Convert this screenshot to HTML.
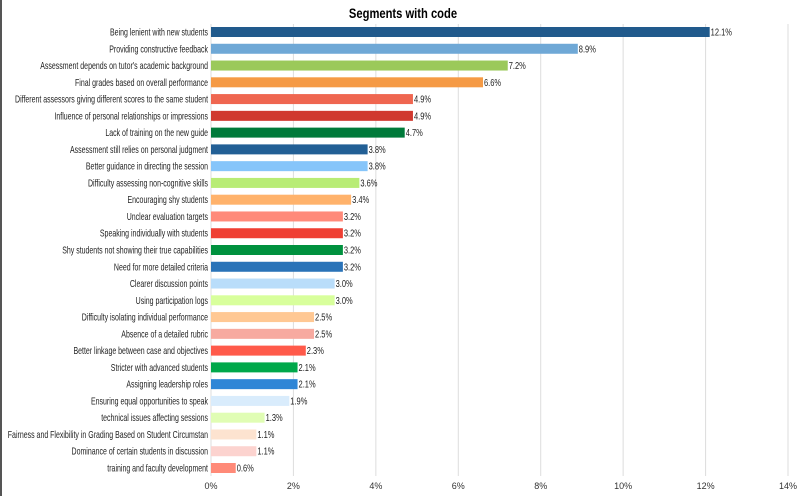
<!DOCTYPE html>
<html><head><meta charset="utf-8"><style>
body{margin:0;background:#fff;}
svg{display:block;font-family:"Liberation Sans",sans-serif;}
</style></head><body>
<svg id="chart" width="807" height="496">
<rect x="0" y="0" width="2" height="496" fill="#555"/>
<text x="403" y="18" text-anchor="middle" font-size="14" font-weight="bold" transform="translate(403,0) scale(0.8,1) translate(-403,0)">Segments with code</text>
<g id="grid"></g><g id="bars"></g>
</svg>
<script>
const categories=["Being lenient with new students","Providing constructive feedback","Assessment depends on tutor's academic background","Final grades based on overall performance","Different assessors giving different scores to the same student","Influence of personal relationships or impressions","Lack of training on the new guide","Assessment still relies on personal judgment","Better guidance in directing the session","Difficulty assessing non-cognitive skills","Encouraging shy students","Unclear evaluation targets","Speaking individually with students","Shy students not showing their true capabilities","Need for more detailed criteria","Clearer discussion points","Using participation logs","Difficulty isolating individual performance","Absence of a detailed rubric","Better linkage between case and objectives","Stricter with advanced students","Assigning leadership roles","Ensuring equal opportunities to speak","technical issues affecting sessions","Fairness and Flexibility in Grading Based on Student Circumstan","Dominance of certain students in discussion","training and faculty development"];
const values=[12.1,8.9,7.2,6.6,4.9,4.9,4.7,3.8,3.8,3.6,3.4,3.2,3.2,3.2,3.2,3.0,3.0,2.5,2.5,2.3,2.1,2.1,1.9,1.3,1.1,1.1,0.6];
const colors=["#215a8c","#6fa8d6","#9bc95a","#f59a45","#ef6650","#d0392f","#007a3a","#225f95","#86c5fa","#b8ec75","#ffb26b","#ff8a7a","#ef3f33","#00913e","#2a73b8","#b9ddfa","#d8ff9c","#ffc894","#f7aaa0","#ff5a4a","#00a84a","#2f86d6","#d9ecfc","#e0fdb4","#fde3d0","#fcd3cf","#ff8a78"];
const ticks=[0,2,4,6,8,10,12,14];
const NS="http://www.w3.org/2000/svg";
const x0=211,x1=788,xmax=14,yTop=24,yBot=476,y0=32,yStep=(468-32)/26;
const xs=v=>x0+(x1-x0)*v/xmax;
const ys=i=>y0+i*yStep;
function mk(t,a,p){const e=document.createElementNS(NS,t);for(const k in a)e.setAttribute(k,a[k]);p.appendChild(e);return e;}
const grid=document.getElementById('grid'),bars=document.getElementById('bars');
ticks.forEach(t=>{
 const l=mk('line',{x1:xs(t),x2:xs(t),y1:yTop,y2:yBot,stroke:'#ddd','stroke-width':1},grid);
 
 
 const tx=mk('text',{x:xs(t),y:489,'text-anchor':'middle','font-size':9,fill:'#333'},grid);
 tx.textContent=t+'%';
 
 
});
categories.forEach((c,i)=>{
 const y=ys(i);
 const r=mk('rect',{x:x0,y:y-5,width:xs(values[i])-x0,height:10,fill:colors[i]},bars);
 
 
 const lb=mk('text',{x:208,y:y+3.5,'text-anchor':'end','font-size':10,fill:'#222',transform:`translate(208,0) scale(0.7,1) translate(-208,0)`},bars);
 lb.textContent=c;
 
 
 const vx=xs(values[i])+1;
 const vl=mk('text',{x:vx,y:y+3.5,'font-size':10,fill:'#222',transform:`translate(${vx},0) scale(0.75,1) translate(${-vx},0)`},bars);
 vl.textContent=values[i].toFixed(1)+'%';
 
 
});
</script>
</body></html>
